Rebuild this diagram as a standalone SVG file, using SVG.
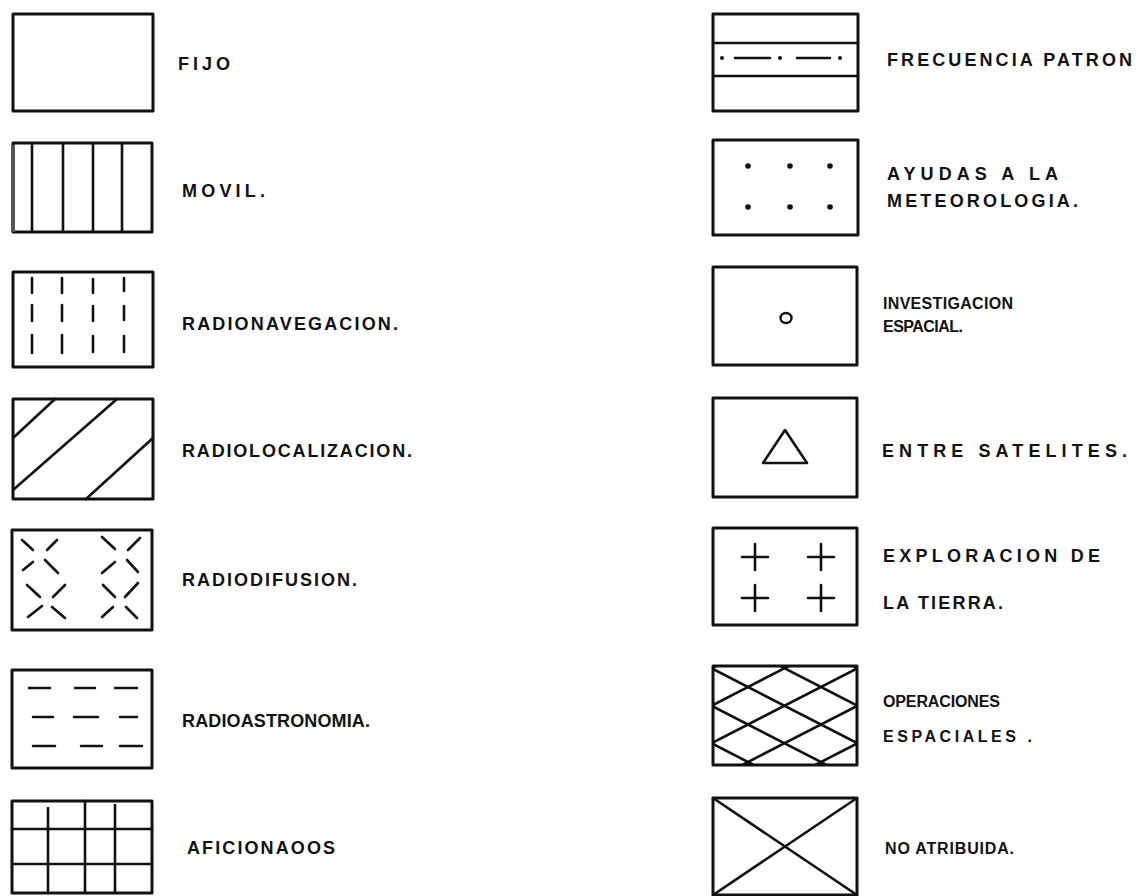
<svg xmlns="http://www.w3.org/2000/svg" width="1137" height="896" viewBox="0 0 1137 896">
<style>
.box{fill:none;stroke:#111;stroke-width:3;stroke-linejoin:round}
.ln{fill:none;stroke:#111;stroke-width:2.6;stroke-linecap:round}
.lbl{font-family:"Liberation Sans",Arial,sans-serif;font-weight:bold;font-size:18px;fill:#111}
.sm{font-size:16px}
</style>
<defs>
<clipPath id="c6"><rect x="713" y="666" width="144" height="99"/></clipPath>
</defs>
<rect width="1137" height="896" fill="#fff"/>

<g id="fijo">
<rect class="box" x="13" y="14" width="140" height="97"/>
<text class="lbl" x="178" y="70" textLength="52" lengthAdjust="spacing">FIJO</text>
</g>
<g id="movil">
<rect class="box" x="13" y="143" width="139" height="89"/>
<line x1="13" y1="145" x2="13" y2="232" stroke="#555" stroke-width="4"/>
<path class="ln" d="M32,144V231M63,144V231M93,144V231M122,144V231"/>
<text class="lbl" x="182" y="197" textLength="83" lengthAdjust="spacing">MOVIL.</text>
</g>
<g id="radionavegacion">
<rect class="box" x="13" y="272" width="140" height="95"/>
<path class="ln" d="M32,278V293M32,305V321M32,335V353M62,278V293M62,305V321M62,335V353M93,279V293M93,306V321M93,336V352M124,278V291M124,306V320M124,336V352"/>
<text class="lbl" x="182" y="330" textLength="216" lengthAdjust="spacing">RADIONAVEGACION.</text>
</g>
<g id="radiolocalizacion">
<rect class="box" x="13" y="399" width="140" height="100"/>
<path class="ln" d="M13,438L55,399M13,490L117,399M86,499L153,438"/>
<text class="lbl" x="182" y="457" textLength="230" lengthAdjust="spacing">RADIOLOCALIZACION.</text>
</g>
<g id="radiodifusion">
<rect class="box" x="12" y="530" width="140" height="100"/>
<path class="ln" d="M22,540L33,550M47,550L57,540M23,570L33,562M45,560L58,573M27,585L40,597M53,597L65,585M28,617L42,606M52,607L65,618M102,537L115,549M128,550L140,538M102,573L115,562M127,560L138,572M103,585L115,597M125,597L138,583M102,617L113,607M126,607L137,618"/>
<text class="lbl" x="182" y="586" textLength="175" lengthAdjust="spacing">RADIODIFUSION.</text>
</g>
<g id="radioastronomia">
<rect class="box" x="12" y="670" width="140" height="98"/>
<path class="ln" d="M29,688H50M75,688H95M115,688H137M33,717H53M74,717H98M120,717H137M33,746H55M81,746H102M120,746H142"/>
<text class="lbl" x="182" y="727" textLength="188" lengthAdjust="spacing">RADIOASTRONOMIA.</text>
</g>
<g id="aficionados">
<rect class="box" x="12" y="801" width="140" height="92"/>
<path class="ln" d="M12,829H152M12,864H152M48,808V893M85,801V893M115,805V893"/>
<text class="lbl" x="187" y="854" textLength="148" lengthAdjust="spacing">AFICIONAOOS</text>
</g>

<g id="frecuencia">
<rect class="box" x="713" y="14" width="145" height="97"/>
<path class="ln" d="M713,43H858M713,76H858M735,58H770M797,58H830"/>
<circle cx="722" cy="58" r="2" fill="#111"/><circle cx="780" cy="58" r="2" fill="#111"/><circle cx="840" cy="58" r="2" fill="#111"/>
<text class="lbl" x="887" y="66" textLength="245" lengthAdjust="spacing">FRECUENCIA PATRON</text>
</g>
<g id="meteorologia">
<rect class="box" x="713" y="140" width="145" height="95"/>
<g fill="#111"><circle cx="748" cy="166" r="2.8"/><circle cx="790" cy="166" r="2.8"/><circle cx="830" cy="166" r="2.8"/><circle cx="748" cy="207" r="2.8"/><circle cx="790" cy="207" r="2.8"/><circle cx="830" cy="207" r="2.8"/></g>
<text class="lbl" x="887" y="180" textLength="171" lengthAdjust="spacing">AYUDAS A LA</text>
<text class="lbl" x="887" y="207" textLength="191" lengthAdjust="spacing">METEOROLOGIA.</text>
</g>
<g id="investigacion">
<rect class="box" x="713" y="267" width="144" height="98"/>
<ellipse cx="786" cy="318" rx="5.5" ry="5" fill="none" stroke="#111" stroke-width="2.4"/>
<text class="lbl sm" x="883" y="309" textLength="130" lengthAdjust="spacing">INVESTIGACION</text>
<text class="lbl sm" x="883" y="332" textLength="80" lengthAdjust="spacing">ESPACIAL.</text>
</g>
<g id="satelites">
<rect class="box" x="713" y="398" width="144" height="99"/>
<path class="ln" d="M785,430L763,463H807Z" stroke-linejoin="round"/>
<text class="lbl" x="882" y="457" textLength="245" lengthAdjust="spacing">ENTRE SATELITES.</text>
</g>
<g id="exploracion">
<rect class="box" x="713" y="528" width="144" height="97"/>
<path class="ln" d="M742,557H768M755,544V570M808,557H834M821,544V570M742,598H768M755,585V611M808,598H834M821,585V611"/>
<text class="lbl" x="883" y="562" textLength="217" lengthAdjust="spacing">EXPLORACION DE</text>
<text class="lbl" x="883" y="609" textLength="120" lengthAdjust="spacing">LA TIERRA.</text>
</g>
<g id="operaciones">
<g clip-path="url(#c6)">
<path class="ln" d="M700,587.3L870,674.7M700,624.8L870,712.2M700,662.3L870,749.7M700,699.8L870,787.2M700,737.3L870,824.7M700,774.8L870,862.2M700,674.2L870,586.8M700,711.7L870,624.3M700,749.2L870,661.8M700,786.7L870,699.3M700,824.2L870,736.8"/>
</g>
<rect class="box" x="713" y="666" width="144" height="99"/>
<text class="lbl sm" x="883" y="707" textLength="117" lengthAdjust="spacing">OPERACIONES</text>
<text class="lbl sm" x="883" y="742" textLength="149" lengthAdjust="spacing">ESPACIALES .</text>
</g>
<g id="noatribuida">
<rect class="box" x="713" y="798" width="144" height="97"/>
<path class="ln" d="M713,798L857,895M857,798L713,895"/>
<text class="lbl sm" x="885" y="854" textLength="129" lengthAdjust="spacing">NO ATRIBUIDA.</text>
</g>
<g id="connectors"/>
</svg>
